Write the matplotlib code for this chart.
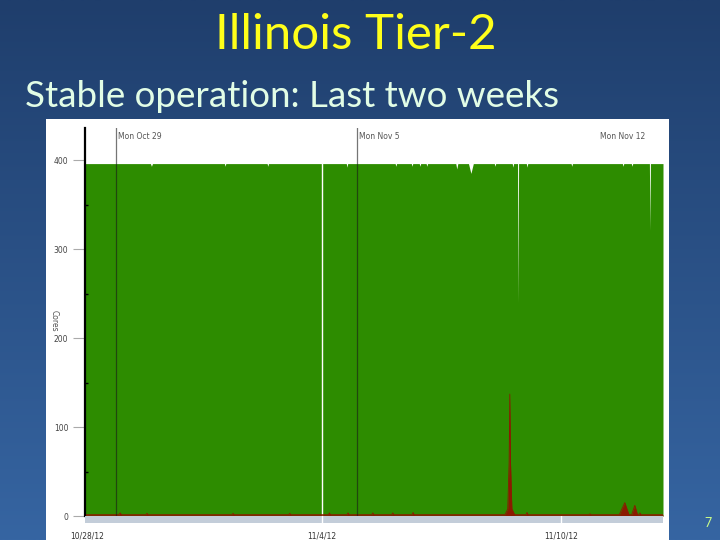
import numpy as np
import matplotlib
matplotlib.use("Agg")
import matplotlib.pyplot as plt
from matplotlib.colors import LinearSegmentedColormap
from matplotlib.patches import Rectangle

# time axis: days since Sun Oct 28 2012, 00:00
x_range = (0.10, 16.89)

# total cores in use (green)
green_days = [0.10, 2.00, 2.03, 2.06, 4.15, 4.17, 4.19, 5.39, 5.41, 5.43,
              7.69, 7.71, 7.73, 9.11, 9.13, 9.15, 9.58, 9.60, 9.62,
              9.81, 9.83, 9.85, 10.01, 10.03, 10.05, 10.87, 10.90, 10.93,
              11.24, 11.31, 11.38, 11.99, 12.01, 12.03, 12.51, 12.53, 12.55,
              12.665, 12.68, 12.695, 12.92, 12.94, 12.96, 14.22, 14.24, 14.26,
              15.71, 15.73, 15.75, 15.97, 15.99, 16.01, 16.495, 16.51, 16.525,
              16.89]
green_cores = [396, 396, 393, 396, 396, 393, 396, 396, 393, 396,
               396, 392, 396, 396, 393, 396, 396, 393, 396,
               396, 393, 396, 396, 393, 396, 396, 390, 396,
               396, 385, 396, 396, 393, 396, 396, 392, 396,
               396, 239, 396, 396, 392, 396, 396, 393, 396,
               396, 393, 396, 396, 393, 396, 396, 321, 396,
               396]

# second series near zero (red)
red_days = [0.10, 1.08, 1.12, 1.16, 1.87, 1.90, 1.93, 4.37, 4.40, 4.43,
            6.02, 6.05, 6.08, 7.17, 7.20, 7.23, 7.71, 7.74, 7.77,
            8.43, 8.46, 8.49, 9.01, 9.04, 9.07, 9.60, 9.63, 9.66,
            12.30, 12.38, 12.42, 12.44, 12.46, 12.50, 12.58,
            12.91, 12.94, 12.97, 14.74, 14.77, 14.80,
            15.62, 15.78, 15.90, 15.98, 16.07, 16.15, 16.19, 16.22, 16.25,
            16.89]
red_cores = [1.5, 1.5, 3.5, 1.5, 1.5, 3, 1.5, 1.5, 3, 1.5,
             1.5, 3, 1.5, 1.5, 3.5, 1.5, 1.5, 3.5, 1.5,
             1.5, 3.5, 1.5, 1.5, 3.5, 1.5, 1.5, 4, 1.5,
             1.5, 8, 60, 137, 60, 8, 1.5,
             1.5, 4, 1.5, 1.5, 2.5, 1.5,
             1.5, 15, 1.5, 1.5, 12, 1.5, 1.5, 3.5, 1.5,
             1.5]

week_days = [1, 8]
week_labels = ["Mon Oct 29", "Mon Nov 5"]
extra_top_day = 15
extra_top_label = "Mon Nov 12"

nav_days = [0.16, 6.98, 13.92]
nav_labels = ["10/28/12", "11/4/12", "11/10/12"]

fig = plt.figure(figsize=(7.2, 5.4), dpi=100)

# slide background
bg = fig.add_axes([0, 0, 1, 1])
grad = np.linspace(0, 1, 256).reshape(-1, 1)
cmap = LinearSegmentedColormap.from_list("slide", ["#1f3e6c", "#3665a2"])
bg.imshow(grad, aspect="auto", cmap=cmap, extent=[0, 720, 540, 0])
bg.set_xlim(0, 720)
bg.set_ylim(540, 0)
bg.add_patch(Rectangle((46, 119), 623, 421, facecolor="white", edgecolor="none"))
bg.axis("off")

fig.text(0.494, 1 - 49 / 540, "Illinois Tier-2", ha="center", va="baseline",
         fontsize=35.5, color="#ffff1a", family="Lato")
fig.text(25 / 720, 1 - 107 / 540, "Stable operation: Last two weeks", ha="left",
         va="baseline", fontsize=26.5, color="#e2fde6", family="Lato")
fig.text(708 / 720, 1 - 527 / 540, "7", ha="center", va="baseline",
         fontsize=9, color="#ccff88", family="Lato")

# main chart
ax = fig.add_axes([85 / 720, 1 - 516 / 540, 578 / 720, 388 / 540])
ax.fill_between(green_days, 0, green_cores, color="#2d8c00", lw=0, zorder=1)
ax.fill_between(red_days, 0, red_cores, color="#8b1a00", lw=0, zorder=2)
ax.plot(red_days, red_cores, color="#8b1a00", lw=0.6, zorder=2)
ax.axvline(nav_days[1], ymax=396 / 436, color="white", lw=1, zorder=1.5)
for d, lab in zip(week_days, week_labels):
    ax.axvline(d, color="#1a1a1a", lw=0.9, alpha=0.6, zorder=3)
    ax.text(d + 0.05, 426, lab, fontsize=5.5, color="#555555", va="center")
ax.text(extra_top_day + 0.05, 426, extra_top_label, fontsize=5.5, color="#555555", va="center")

ax.set_xlim(*x_range)
ax.set_ylim(0, 436)
ax.set_yticks([0, 100, 200, 300, 400])
ax.set_yticks([50, 150, 250, 350], minor=True)
ax.tick_params(axis="y", which="major", direction="out", length=9, color="#aaaaaa",
               labelsize=5.5, labelcolor="#444444", pad=3)
ax.tick_params(axis="y", which="minor", direction="in", length=2.5, width=1, color="black")
ax.set_xticks([])
for s in ["top", "right", "bottom"]:
    ax.spines[s].set_visible(False)
ax.spines["left"].set_linewidth(1.6)
ax.spines["left"].set_color("black")
fig.text(54 / 720, 1 - 321 / 540, "Cores", rotation=270, ha="center", va="center",
         fontsize=5.5, color="#555555")

# navigator strip
nav = fig.add_axes([85 / 720, 1 - 523 / 540, 578 / 720, 7 / 540])
nav.set_facecolor("#c3cdd9")
nav.set_xlim(*x_range)
nav.set_ylim(0, 1)
for d in nav_days[1:]:
    nav.axvline(d, color="white", lw=1)
nav.set_xticks(nav_days)
nav.set_xticklabels(nav_labels)
nav.tick_params(axis="x", length=0, labelsize=5.5, labelcolor="#333333", pad=6)
nav.set_yticks([])
for s in nav.spines.values():
    s.set_visible(False)

fig.savefig("out.png", dpi=100)
